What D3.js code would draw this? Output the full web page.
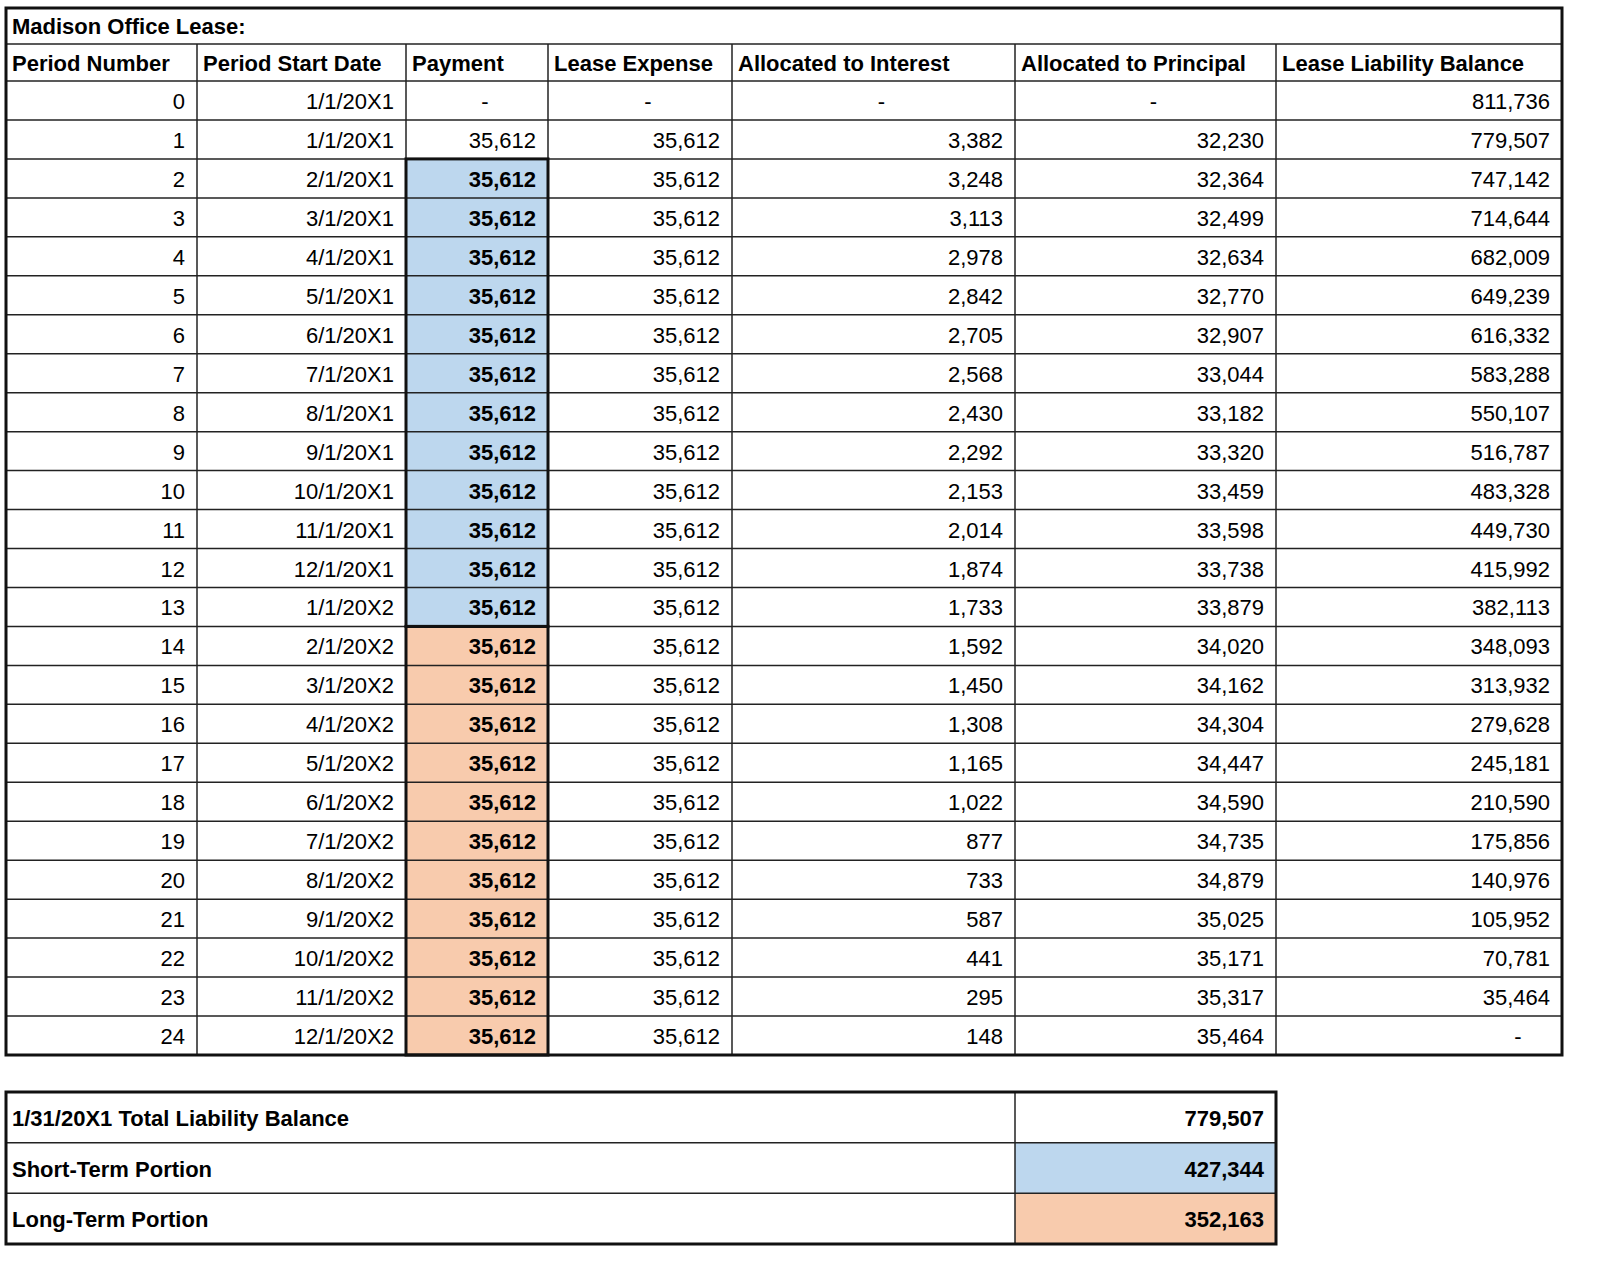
<!DOCTYPE html>
<html><head><meta charset="utf-8">
<script src="https://cdn.jsdelivr.net/npm/d3@7"></script>
<style>body{margin:0;background:#fff}</style></head>
<body><div id="chart"></div>
<script>
const title = "Madison Office Lease:";
const headers = ["Period Number", "Period Start Date", "Payment", "Lease Expense", "Allocated to Interest", "Allocated to Principal", "Lease Liability Balance"];
const periods = d3.range(0, 25);
const startDates = ["1/1/20X1","1/1/20X1","2/1/20X1","3/1/20X1","4/1/20X1","5/1/20X1","6/1/20X1","7/1/20X1","8/1/20X1","9/1/20X1","10/1/20X1","11/1/20X1","12/1/20X1","1/1/20X2","2/1/20X2","3/1/20X2","4/1/20X2","5/1/20X2","6/1/20X2","7/1/20X2","8/1/20X2","9/1/20X2","10/1/20X2","11/1/20X2","12/1/20X2"];
const payments = [null].concat(d3.range(24).map(() => 35612));
const expenses = payments.slice();
const interest = [null,3382,3248,3113,2978,2842,2705,2568,2430,2292,2153,2014,1874,1733,1592,1450,1308,1165,1022,877,733,587,441,295,148];
const principal = [null,32230,32364,32499,32634,32770,32907,33044,33182,33320,33459,33598,33738,33879,34020,34162,34304,34447,34590,34735,34879,35025,35171,35317,35464];
const balance = [811736,779507,747142,714644,682009,649239,616332,583288,550107,516787,483328,449730,415992,382113,348093,313932,279628,245181,210590,175856,140976,105952,70781,35464,null];
const summaryLabels = ["1/31/20X1 Total Liability Balance", "Short-Term Portion", "Long-Term Portion"];
const summaryValues = [779507, 427344, 352163];

const blue = "#bdd7ee", orange = "#f8cbad";
const fmt = v => v == null ? "-" : d3.format(",")(v);
const colEdges = [6, 197, 406, 548, 732, 1015, 1276, 1562];
const font = "'Liberation Sans', Arial, sans-serif";

const svg = d3.select("#chart").append("svg").attr("width", 1600).attr("height", 1277)
  .style("font-family", font).style("font-size", "22px");

const y = d3.scaleLinear().domain([0, 25]).range([81, 1055]);
const rows = periods.map(i => [i, startDates[i], payments[i], expenses[i], interest[i], principal[i], balance[i]]);

// payment fills
rows.forEach((r, i) => {
  if (i >= 2) svg.append("rect").attr("x", colEdges[2]).attr("y", y(i)).attr("width", colEdges[3] - colEdges[2])
    .attr("height", y(i + 1) - y(i)).attr("fill", i <= 13 ? blue : orange);
});

// grid lines
const g = svg.append("g").attr("stroke", "#222").attr("stroke-width", 1.5);
d3.range(0, 26).forEach(i => g.append("line").attr("x1", 6).attr("x2", 1562).attr("y1", y(i)).attr("y2", y(i)));
g.append("line").attr("x1", 6).attr("x2", 1562).attr("y1", 44).attr("y2", 44);
colEdges.forEach(x => g.append("line").attr("x1", x).attr("x2", x).attr("y1", 44).attr("y2", 1055));
svg.append("rect").attr("x", 6).attr("y", 8).attr("width", 1556).attr("height", 1047)
  .attr("fill", "none").attr("stroke", "#111").attr("stroke-width", 3);
[[2, 14], [14, 25]].forEach(([a, b]) => svg.append("rect").attr("x", colEdges[2]).attr("y", y(a))
  .attr("width", colEdges[3] - colEdges[2]).attr("height", y(b) - y(a))
  .attr("fill", "none").attr("stroke", "#111").attr("stroke-width", 3));

svg.append("text").attr("x", 12).attr("y", 34).attr("font-weight", "bold").text(title);
headers.forEach((h, j) => svg.append("text").attr("x", colEdges[j] + 6).attr("y", 71)
  .attr("font-weight", "bold").text(h));

rows.forEach((r, i) => {
  r.forEach((v, j) => {
    const txt = j === 0 ? String(v) : j === 1 ? v : fmt(v);
    const dash = txt === "-";
    const x = dash ? (j === 6 ? colEdges[7] - 44 : (colEdges[j] + colEdges[j + 1]) / 2 + 8) : colEdges[j + 1] - 12;
    svg.append("text").attr("x", x).attr("y", y(i) + 28)
      .attr("text-anchor", dash ? "middle" : "end")
      .attr("font-weight", j === 2 && i >= 2 ? "bold" : "normal").text(txt);
  });
});

// summary table
const sy = d3.scaleLinear().domain([0, 3]).range([1092, 1244]);
summaryLabels.forEach((l, i) => {
  if (i > 0) svg.append("rect").attr("x", 1015).attr("y", sy(i)).attr("width", 261).attr("height", sy(i + 1) - sy(i))
    .attr("fill", i === 1 ? blue : orange);
  svg.append("text").attr("x", 12).attr("y", sy(i) + 34).attr("font-weight", "bold").text(l);
  svg.append("text").attr("x", 1264).attr("y", sy(i) + 34).attr("text-anchor", "end").attr("font-weight", "bold").text(fmt(summaryValues[i]));
});
const sg = svg.append("g").attr("stroke", "#222").attr("stroke-width", 1.5);
[1, 2].forEach(i => sg.append("line").attr("x1", 6).attr("x2", 1276).attr("y1", sy(i)).attr("y2", sy(i)));
sg.append("line").attr("x1", 1015).attr("x2", 1015).attr("y1", 1092).attr("y2", 1244);
svg.append("rect").attr("x", 6).attr("y", 1092).attr("width", 1270).attr("height", 152)
  .attr("fill", "none").attr("stroke", "#111").attr("stroke-width", 3);
</script></body></html>
